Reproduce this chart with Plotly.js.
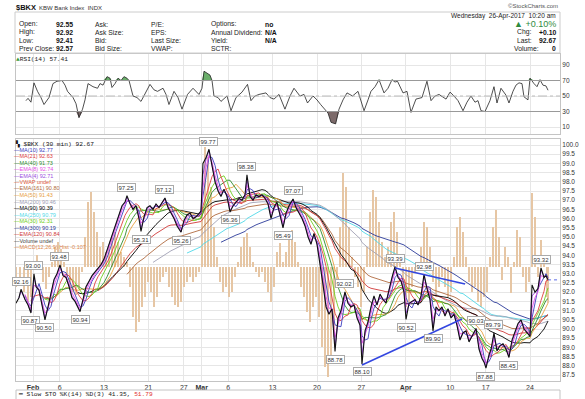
<!DOCTYPE html>
<html><head><meta charset="utf-8">
<script src="https://cdn.plot.ly/plotly-3.0.1.min.js"></script>
<style>body{margin:0;background:#fff}#c{width:585px;height:399px}</style>
</head><body><div id="c"></div>
<script>
// ---------- DATA ----------
// trading-day index: 0 = Feb 1 2017 open, 13 half-hour bars per day
const dayTicks = [0,3,8,13,17,19,22,27,32,37,42,47,51,56];
const tickLabels = ['<b>Feb</b>','6','13','21','27','<b>Mar</b>','6','13','20','27','<b>Apr</b>','10','17','24'];

const tDay = [-1.92,-1.58,-1.35,-0.90,-0.56,-0.23,0.11,0.34,0.68,1.01,
1.35,1.69,2.03,2.37,2.70,3.04,3.38,3.72,4.06,4.39,
4.73,5.07,5.30,5.63,5.97,6.31,6.65,6.99,7.32,7.66,
8.00,8.34,8.68,9.01,9.35,9.69,10.03,10.37,10.59,10.93,
11.27,11.61,11.94,12.17,12.51,12.85,13.18,13.52,13.86,14.20,
14.54,14.87,15.21,15.55,15.89,16.23,16.68,17.01,17.35,17.69,
18.03,18.37,18.70,18.93,19.15,19.49,19.83,20.17,20.51,20.85,
21.18,21.52,21.86,22.20,22.54,22.87,23.21,23.55,23.89,24.11,
24.45,24.79,25.13,25.46,25.80,26.14,26.48,26.82,27.15,27.49,
27.83,28.17,28.51,28.85,29.30,29.63,29.97,30.31,30.65,30.99,
31.32,31.66,32.00,32.34,32.68,33.02,33.35,33.69,34.03,34.37,
34.70,35.15,35.49,35.83,36.17,36.51,36.85,37.07,37.41,37.75,
38.08,38.42,38.76,39.10,39.44,39.77,40.11,40.45,40.79,41.13,
41.47,41.80,42.03,42.37,42.70,43.04,43.38,43.72,44.06,44.39,
44.73,45.07,45.41,45.75,46.08,46.42,46.76,47.10,47.44,47.77,
48.11,48.45,48.79,49.13,49.46,49.92,50.25,50.59,50.82,51.04,
51.38,51.61,51.94,52.28,52.62,52.96,53.30,53.63,53.97,54.31,
54.65,54.99,55.32,55.66,56.00,56.23,56.56,56.90,57.24,57.58,
57.80,58.03];
const close = [91.4,91.7,92.16,91.6,91.3,90.87,93.0,92.3,92.1,91.3,
90.5,91.2,92.0,92.7,93.0,93.48,92.9,92.8,92.3,91.7,
91.5,91.2,90.94,91.6,92.3,92.6,92.9,93.1,93.3,93.5,
93.8,94.3,94.8,95.3,95.8,96.2,96.7,96.9,97.25,96.8,
96.5,96.7,96.0,95.31,96.1,96.6,96.7,96.5,96.8,96.6,
96.9,97.12,96.6,96.3,96.0,95.6,95.26,95.9,96.2,96.3,
96.0,96.1,96.3,96.4,99.0,99.3,99.77,98.9,98.0,97.5,
97.2,97.6,97.2,96.36,96.7,96.9,97.1,97.0,97.3,98.38,
97.2,97.0,97.3,97.2,97.3,97.1,96.8,96.0,96.6,96.9,
96.2,95.49,96.3,96.7,97.07,96.6,96.3,96.0,95.6,95.0,
94.6,95.2,94.6,93.6,92.4,91.2,90.8,91.1,88.78,90.6,
91.0,92.02,91.4,91.2,91.3,90.6,90.2,88.10,89.9,90.4,
91.2,91.8,91.3,91.9,91.6,91.4,92.2,92.8,93.39,92.8,
92.6,92.0,90.52,91.4,91.5,91.6,91.3,91.8,92.98,92.2,
91.6,89.90,91.2,91.0,91.2,90.7,91.1,90.6,90.8,90.2,
89.4,89.8,89.9,89.3,89.6,90.03,88.9,88.4,88.2,87.88,
88.6,88.9,89.79,88.8,89.1,89.2,88.9,88.45,89.4,89.8,
90.3,90.5,90.0,89.8,89.6,92.4,92.0,92.2,93.32,92.8,
92.9,92.67];

const histDay = [-1.92,-1.46,-1.01,-0.56,-0.23,0.11,0.45,0.79,1.13,1.46,
1.80,2.14,2.48,2.82,3.15,3.49,3.83,4.17,4.51,4.85,
5.18,5.52,5.86,6.20,6.54,6.87,7.21,7.55,7.89,8.23,
8.56,8.90,9.24,9.58,9.92,10.25,10.59,10.93,11.27,11.61,
11.94,12.28,12.62,12.96,13.30,13.63,13.97,14.31,14.65,14.99,
15.32,15.66,16.00,16.34,16.68,17.01,17.35,17.69,18.03,18.37,
18.70,19.04,19.38,19.72,20.06,20.39,20.73,21.07,21.41,21.75,
22.08,22.42,22.76,23.10,23.44,23.77,24.11,24.45,24.79,25.13,
25.46,25.80,26.14,26.48,26.82,27.15,27.49,27.83,28.17,28.51,
28.85,29.18,29.52,29.86,30.20,30.54,30.87,31.21,31.55,31.89,
32.23,32.56,32.90,33.24,33.58,33.92,34.25,34.59,34.93,35.27,
35.61,35.94,36.28,36.62,36.96,37.30,37.63,37.97,38.31,38.65,
38.99,39.32,39.66,40.00,40.34,40.68,41.01,41.35,41.69,42.03,
42.37,42.70,43.04,43.38,43.72,44.06,44.39,44.73,45.07,45.41,
45.75,46.08,46.42,46.76,47.10,47.44,47.77,48.11,48.45,48.79,
49.13,49.46,49.80,50.14,50.48,50.82,51.15,51.49,51.83,52.17,
52.51,52.85,53.18,53.52,53.86,54.20,54.54,54.87,55.21,55.55,
55.89,56.23,56.56,56.90,57.24,57.58,57.92,58.03];
const histVal = [-0.060,-0.030,-0.074,-0.104,-0.089,0.015,0.036,0.015,-0.045,-0.065,
-0.030,0.015,0.060,0.074,0.054,0.015,-0.030,-0.060,-0.074,-0.083,
-0.065,-0.015,0.089,0.193,0.223,0.164,0.104,0.060,0.074,0.045,
0.060,0.089,0.104,0.074,0.045,0.030,0.015,-0.060,-0.149,-0.193,
-0.164,-0.119,-0.089,-0.045,-0.074,-0.119,-0.089,-0.045,-0.030,-0.015,
-0.060,-0.089,-0.113,-0.119,-0.104,-0.060,-0.045,-0.030,-0.045,-0.030,
-0.015,0.179,0.357,0.327,0.238,0.119,0.030,-0.045,-0.074,-0.060,
-0.089,-0.074,-0.030,0.015,0.060,0.089,0.101,0.060,0.015,-0.015,
-0.030,-0.015,-0.045,-0.074,-0.104,-0.060,0.045,0.071,0.015,0.045,
0.089,0.110,0.074,0.015,-0.060,-0.089,-0.134,-0.164,-0.119,-0.089,
-0.149,-0.238,-0.298,-0.327,-0.283,-0.208,-0.060,0.119,0.280,0.238,
0.119,0.030,-0.030,-0.060,-0.119,-0.074,0.060,0.164,0.229,0.208,
0.134,0.074,0.030,0.060,0.134,0.164,0.104,0.030,-0.060,-0.119,
-0.104,-0.060,-0.015,0.015,0.060,0.134,0.119,0.060,-0.045,-0.089,
-0.060,-0.030,-0.060,-0.089,-0.074,0.030,0.119,0.149,0.104,0.030,
-0.045,-0.074,-0.060,-0.104,-0.119,-0.089,-0.074,0.030,0.119,0.170,
0.089,-0.039,0.060,0.030,-0.077,0.015,0.110,0.089,-0.030,-0.074,
-0.045,0.220,0.149,-0.030,0.080,0.030,-0.089,-0.107];

const rsiDay = [-0.79,-0.56,-0.23,0.11,0.51,0.90,1.24,1.46,1.80,2.25,
2.70,3.27,3.61,3.89,4.51,4.85,5.18,5.58,5.86,6.20,
6.76,7.27,7.55,7.89,8.34,8.68,8.90,9.24,9.58,9.92,
10.25,10.59,10.82,11.27,11.72,12.17,12.73,13.18,13.63,14.03,
14.65,14.99,15.32,15.89,16.34,16.79,17.41,18.03,18.70,19.04,
19.27,19.61,19.94,20.17,20.39,20.85,21.18,21.86,22.31,22.87,
23.55,24.17,24.56,25.01,25.46,26.25,26.70,27.15,27.72,28.39,
28.96,29.41,29.75,30.08,30.54,30.93,31.55,32.00,32.41,33.02,
33.24,33.58,34.10,34.48,34.93,35.38,36.00,36.62,37.30,37.75,
38.08,38.54,38.99,39.55,40.00,40.45,40.79,41.07,41.69,42.14,
42.59,43.15,43.83,44.39,44.85,45.30,45.75,46.54,46.99,47.44,
47.89,48.45,48.90,49.35,49.80,50.14,50.48,50.93,51.49,51.94,
52.28,52.73,53.30,53.63,54.08,54.42,54.76,55.10,55.32,55.77,
56.00,56.45,56.79,57.13,57.46,57.80,58.03];
const rsiVal = [44,47,42,67,56,48,39,42,48,66,
69,70,64,56,48,40,22,33,45,66,
62,60,66,64,75,73,61,66,73,70,
75,73,70,50,48,43,56,65,58,56,
60,52,39,56,48,33,52,60,52,60,
82,80,77,70,50,48,43,50,31,48,
55,65,44,50,52,54,48,46,52,33,
50,60,55,50,52,41,50,45,39,31,
28,16,14,33,45,54,50,56,31,45,
56,62,71,54,60,71,68,69,54,56,
29,46,48,69,44,50,52,46,55,50,
44,31,42,50,42,44,31,30,44,62,
41,60,51,41,56,64,67,66,49,45,
73,66,62,71,64,63,57.41];

const pivotDay = [-1.35,-0.23,0.11,1.35,3.04,5.30,10.59,12.17,14.87,16.68,19.83,22.20,24.11,28.17,29.30,34.03,35.15,37.07,40.79,42.03,44.06,45.07,49.92,51.04,51.94,53.63,57.24];
const pivotVal = [92.16,90.87,93.00,90.50,93.48,90.94,97.25,95.31,97.12,95.26,99.77,96.36,98.38,95.49,97.07,88.78,92.02,88.10,93.39,90.52,92.98,89.90,90.03,87.88,89.79,88.45,93.32];
const pivotSide = [1,-1,1,-1,1,-1,1,-1,1,-1,1,-1,1,-1,1,-1,1,-1,1,-1,1,-1,1,-1,1,-1,1];

const trendADay = [37.07,48.34], trendAVal = [88.04,90.54];
const trendBDay = [40.79,48.68], trendBVal = [93.32,92.45];

const legendLabels = ['MA(10) 92.77','MA(21) 92.63','MA(40) 91.73','EMA(8) 92.74','EMA(4) 92.71','VWAP undef','EMA(161) 90.80','MA(50) 91.43','MA(200) 90.46','MA(90) 90.39','MA(250) 90.79','MA(30) 92.31','MA(300) 90.19','EMA(120) 90.84','Volume undef','MACD(12,26,9) Hist -0.107'];
const legendColors = ['#3c3cc0','#e04040','#2e8b2e','#e650e6','#9b4de0','#e05a3a','#b06a40','#e8a040','#a0a0b4','#000000','#50d8e8','#70d020','#2a3a9a','#d03a3a','#444444','#e0884a'];

// ---------- indicators derived from the price series ----------
function sma(N){const W=N/13;return tDay.map((t,i)=>{if(t-tDay[0]<W)return null;let s=0,c=0;for(let j=i;j>=0&&tDay[j]>t-W;j--){s+=close[j];c++;}return s/c;});}
function ema(N){const W=N/13,a=2/(N+1);let e=null;return tDay.map((t,i)=>{if(t-tDay[0]<W)return null;if(e===null){let s=0,c=0;for(let j=i;j>=0&&tDay[j]>t-W;j--){s+=close[j];c++;}e=s/c;return e;}const k=1-Math.pow(1-a,(t-tDay[i-1])*13);e=e+k*(close[i]-e);return e;});}

// ---------- layout helpers ----------
const W=585,H=399;
const PX=x=>x/W, PY=y=>1-y/H;
const SANS='Liberation Sans, Arial, sans-serif', MONO='Liberation Mono, Courier New, monospace';
const xDom=[PX(16),PX(560)];
const xRange=[-1.915,59.38];
const ann=[];
function txt(x,y,text,size,color,anchor,family){ann.push({xref:'paper',yref:'paper',x:PX(x),y:PY(y),text:text,showarrow:false,xanchor:anchor||'left',yanchor:'middle',borderpad:0,font:{family:family||SANS,size:size,color:color||'#222'}});}

// header
txt(15,7,'<b>$BKX</b>',7.5,'#111');
txt(38,7.5,'KBW Bank Index  INDX',6,'#333');
txt(559,6.5,'©StockCharts.com',6,'#555','right');
// info box
const rowsY=[24,32.3,40.7,49];
const c1=['Open:','High:','Low:','Prev Close:'], v1=['92.55','92.92','92.41','92.57'];
const c2=['Ask:','Ask Size:','Bid:','Bid Size:'];
const c3=['P/E:','EPS:','Last Size:','VWAP:'];
const c4=['Options:','Annual Dividend:','Yield:','SCTR:'], v4=['no','N/A','N/A',''];
rowsY.forEach((y,i)=>{txt(18,y,c1[i],6.8);txt(55,y,'<b>'+v1[i]+'</b>',6.8,'#111');txt(94,y,c2[i],6.8);txt(150,y,c3[i],6.8);txt(210,y,c4[i],6.8);if(v4[i])txt(264,y,'<b>'+v4[i]+'</b>',6.8,'#111');});
txt(557,15.7,'Wednesday  26-Apr-2017  10:20 am',6.5,'#222','right');
txt(557,24,'▲ +0.10%',9,'#2e8b3e','right');
txt(516,32.3,'Chg:',6.8);txt(557,32.3,'<b>+0.10</b>',6.8,'#111','right');
txt(516,40.7,'Last:',6.8);txt(557,40.7,'<b>92.67</b>',6.8,'#111','right');
txt(513,49,'Volume:',6.8);txt(557,49,'<b>0</b>',6.8,'#111','right');
// panel labels
txt(15,59,'<span style="color:#3a9a3a">▲</span>RSI(14) 57.41',6.2,'#222','left',MONO);
txt(14,143.5,'▚ $BKX (30 min) 92.67',6.2,'#111','left',MONO);
legendLabels.forEach((l,k)=>txt(13,149.5+6.5*k,'—'+l,5.5,legendColors[k]));
txt(17,394.5,'━ Slow STO %K(14) %D(3) 41.35, <span style="color:#e03030">51.79</span>',6.2,'#222','left',MONO);
// pivot value boxes
pivotDay.forEach((d,i)=>ann.push({xref:'x',yref:'y3',x:d,y:pivotVal[i],text:pivotVal[i].toFixed(2),showarrow:false,yshift:pivotSide[i]*8,bgcolor:'#ffffff',bordercolor:'#aaaaaa',borderwidth:1,borderpad:0.5,font:{family:SANS,size:6,color:'#333'}}));

// ---------- traces ----------
const traces=[];
traces.push({type:'bar',x:histDay,y:histVal,width:0.32,xaxis:'x',yaxis:'y2',marker:{color:'#e6c6a4',line:{width:0}}});
const maDefs=[['sma',300,'#2a3a9a'],['sma',250,'#50d8e8'],['sma',200,'#a0a0b4'],['ema',161,'#b06a40'],['ema',120,'#d03a3a'],['sma',90,'#000000'],['sma',50,'#e8a040'],['sma',40,'#2e8b2e'],['sma',30,'#70d020'],['sma',21,'#e04040'],['sma',10,'#3c3cc0']];
maDefs.forEach(m=>traces.push({type:'scatter',mode:'lines',x:tDay,y:m[0]==='sma'?sma(m[1]):ema(m[1]),xaxis:'x',yaxis:'y3',line:{color:m[2],width:0.9},connectgaps:false}));
traces.push({type:'scatter',mode:'lines',x:tDay,y:ema(8),xaxis:'x',yaxis:'y3',line:{color:'#e650e6',width:0.9}});
traces.push({type:'scatter',mode:'lines',x:tDay,y:ema(4),xaxis:'x',yaxis:'y3',line:{color:'#9b4de0',width:1}});
traces.push({type:'scatter',mode:'lines',x:tDay,y:close,xaxis:'x',yaxis:'y3',line:{color:'#111',width:1.1}});
traces.push({type:'scatter',mode:'lines',x:trendADay,y:trendAVal,xaxis:'x',yaxis:'y3',line:{color:'#3346e0',width:1.6}});
traces.push({type:'scatter',mode:'lines',x:trendBDay,y:trendBVal,xaxis:'x',yaxis:'y3',line:{color:'#3346e0',width:1.6}});
const lastC=close[close.length-1];
traces.push({type:'scatter',mode:'lines',x:[tDay[tDay.length-1],xRange[1]],y:[lastC,lastC],xaxis:'x',yaxis:'y3',line:{color:'#3346e0',width:0.8,dash:'dot'}});
// RSI
traces.push({type:'scatter',mode:'lines',x:rsiDay,y:rsiDay.map(()=>70),xaxis:'x2',yaxis:'y',line:{width:0},hoverinfo:'skip'});
traces.push({type:'scatter',mode:'lines',x:rsiDay,y:rsiVal.map(v=>Math.max(v,70)),xaxis:'x2',yaxis:'y',line:{width:0},fill:'tonexty',fillcolor:'rgba(80,160,80,0.85)'});
traces.push({type:'scatter',mode:'lines',x:rsiDay,y:rsiDay.map(()=>30),xaxis:'x2',yaxis:'y',line:{width:0}});
traces.push({type:'scatter',mode:'lines',x:rsiDay,y:rsiVal.map(v=>Math.min(v,30)),xaxis:'x2',yaxis:'y',line:{width:0},fill:'tonexty',fillcolor:'rgba(110,90,90,0.9)'});
traces.push({type:'scatter',mode:'lines',x:rsiDay,y:rsiVal,xaxis:'x2',yaxis:'y',line:{color:'#222',width:0.8}});

const grid='#e6e6e6', frame='#c4c4c4';
const tf={family:SANS,size:7,color:'#333'};
const layout={
  width:W,height:H,margin:{l:0,r:0,t:0,b:0},paper_bgcolor:'#fff',plot_bgcolor:'#fff',showlegend:false,hovermode:false,
  xaxis:{domain:xDom,range:xRange,anchor:'y2',tickmode:'array',tickvals:dayTicks,ticktext:tickLabels,ticks:'',showgrid:true,gridcolor:grid,zeroline:false,showline:true,mirror:true,linecolor:frame,tickfont:tf},
  xaxis2:{domain:xDom,matches:'x',anchor:'y',tickmode:'array',tickvals:dayTicks,showticklabels:false,ticks:'',showgrid:true,gridcolor:grid,zeroline:false,showline:true,mirror:true,linecolor:frame},
  yaxis:{domain:[PY(134),PY(54)],range:[0.97,104.2],anchor:'x2',side:'right',tickmode:'array',tickvals:[10,30,50,70,90],ticks:'',showgrid:true,gridcolor:grid,zeroline:false,showline:true,mirror:true,linecolor:frame,tickfont:{family:SANS,size:6.5,color:'#333'}},
  yaxis2:{domain:[PY(381),PY(139)],range:[-0.339,0.381],anchor:'x',visible:false,showgrid:false,zeroline:false},
  yaxis3:{overlaying:'y2',anchor:'x',side:'right',range:[87.174,100.326],dtick:0.5,tick0:0,tickformat:'.1f',ticks:'',showgrid:true,gridcolor:grid,zeroline:false,showline:true,mirror:true,linecolor:frame,tickfont:{family:SANS,size:6.5,color:'#333'}},
  annotations:ann,
  shapes:[
    {type:'rect',xref:'paper',yref:'paper',x0:PX(15),x1:PX(560),y0:PY(53),y1:PY(12),line:{color:'#cccccc',width:1}},
    {type:'line',xref:'paper',yref:'y',x0:xDom[0],x1:xDom[1],y0:70,y1:70,line:{color:'#999',width:1}},
    {type:'line',xref:'paper',yref:'y',x0:xDom[0],x1:xDom[1],y0:30,y1:30,line:{color:'#999',width:1}},
    {type:'line',xref:'paper',yref:'y',x0:xDom[0],x1:xDom[1],y0:50,y1:50,line:{color:'#bbb',width:1,dash:'dashdot'}},
    {type:'rect',xref:'paper',yref:'paper',x0:PX(16),x1:PX(560),y0:PY(402),y1:PY(390),line:{color:frame,width:1}}
  ],
  bargap:0
};
Plotly.newPlot('c',traces,layout,{staticPlot:true,displayModeBar:false});
</script></body></html>
